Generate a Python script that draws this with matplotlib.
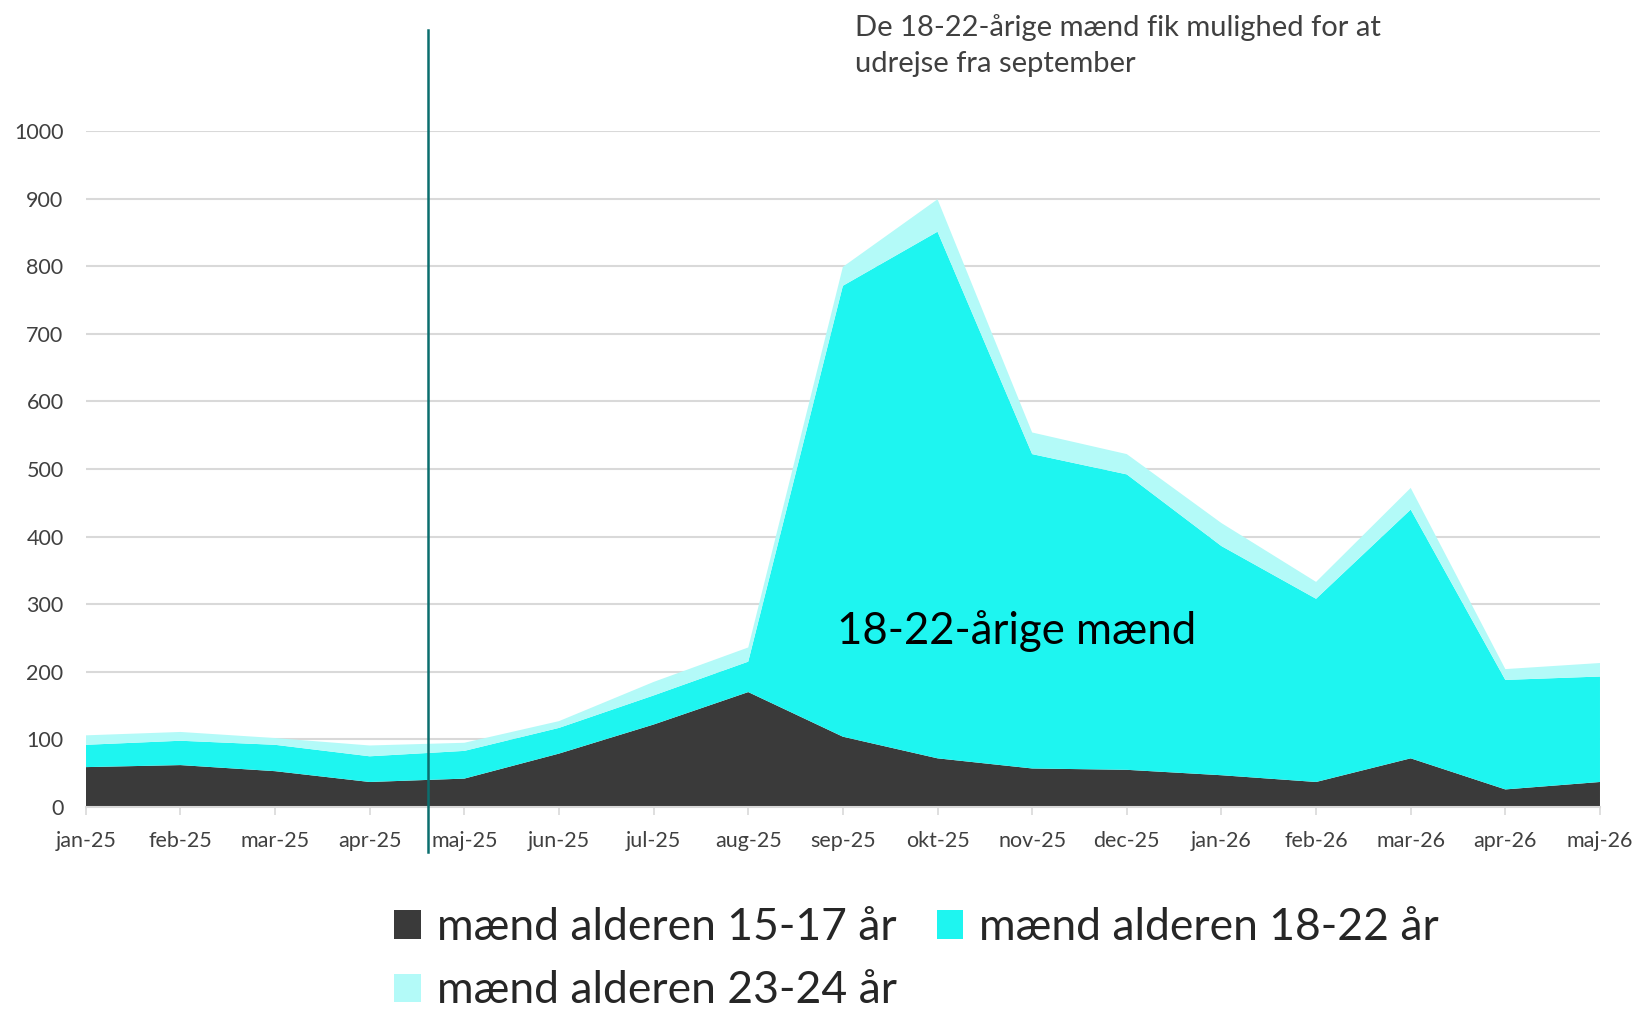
import numpy as np
import matplotlib
matplotlib.use("Agg")
from matplotlib import pyplot as plt
from matplotlib.patches import Patch

months = ["jan-25", "feb-25", "mar-25", "apr-25", "maj-25", "jun-25", "jul-25", "aug-25",
          "sep-25", "okt-25", "nov-25", "dec-25", "jan-26", "feb-26", "mar-26", "apr-26", "maj-26"]
age_15_17 = [59, 62, 53, 37, 42, 79, 122, 170, 104, 72, 57, 55, 47, 37, 72, 26, 37]
age_18_22 = [33, 36, 39, 38, 41, 38, 43, 45, 667, 779, 465, 437, 339, 271, 368, 162, 156]
age_23_24 = [14, 13, 10, 16, 12, 10, 20, 21, 28, 48, 32, 30, 34, 25, 32, 16, 20]
labels = ["mænd alderen 15-17 år", "mænd alderen 18-22 år", "mænd alderen 23-24 år"]
colors = ["#3a3a3a", "#1ef5f0", "#b3faf8"]
yticks = list(range(0, 1001, 100))
marker_x = 3.62  # between apr-25 and maj-25

plt.rcParams['font.family'] = ['Lato', 'DejaVu Sans']

fig = plt.figure(figsize=(16.4, 10.09), dpi=100)
ax = fig.add_axes([0.0523, 0.2002, 0.9233, 0.670])

x = np.arange(len(months))
ax.stackplot(x, age_15_17, age_18_22, age_23_24, colors=colors, linewidth=0)

ax.set_xlim(0, len(months) - 1)
ax.set_ylim(0, 1000)
ax.set_yticks(yticks)
ax.set_xticks(x)
ax.set_xticklabels(months)
ax.yaxis.grid(True, color="#d9d9d9", linewidth=1.5)
ax.set_axisbelow(True)
for side in ["top", "right", "left"]:
    ax.spines[side].set_visible(False)
ax.spines["bottom"].set_color("#d9d9d9")
ax.spines["bottom"].set_linewidth(1.5)
ax.spines["bottom"].set_zorder(5)
ax.tick_params(axis="y", length=0, pad=16, labelsize=15.5, labelcolor="#404040")
ax.tick_params(axis="x", length=6, width=1.2, color="#d9d9d9", pad=11,
               labelsize=15.5, labelcolor="#404040")

# vertical marker line reaching outside the plot area
ax.plot([marker_x, marker_x], [-66, 1150], color="#0b6e6e", linewidth=1.8,
        clip_on=False, zorder=6)

ax.text(9.84, 260, "18-22-årige mænd", fontsize=31.5, color="black",
        ha="center", va="center", zorder=7)

fig.text(0.5213, 0.986, "De 18-22-årige mænd fik mulighed for at\nudrejse fra september",
         fontsize=21, color="#404040", ha="left", va="top", linespacing=1.45)

# legend filled column-wise, so order handles to read row-wise
order = [0, 2, 1]
handles = [Patch(facecolor=colors[i], edgecolor="none") for i in order]
fig.legend(handles, [labels[i] for i in order], loc="upper left",
           bbox_to_anchor=(0.2405, 0.101), ncol=2, frameon=False, fontsize=32,
           handlelength=0.6, handleheight=0.6, handletextpad=0.35,
           columnspacing=0.9, labelspacing=0.5,
           borderaxespad=0, borderpad=0, labelcolor="#262626")

fig.savefig("out.png", dpi=100)
